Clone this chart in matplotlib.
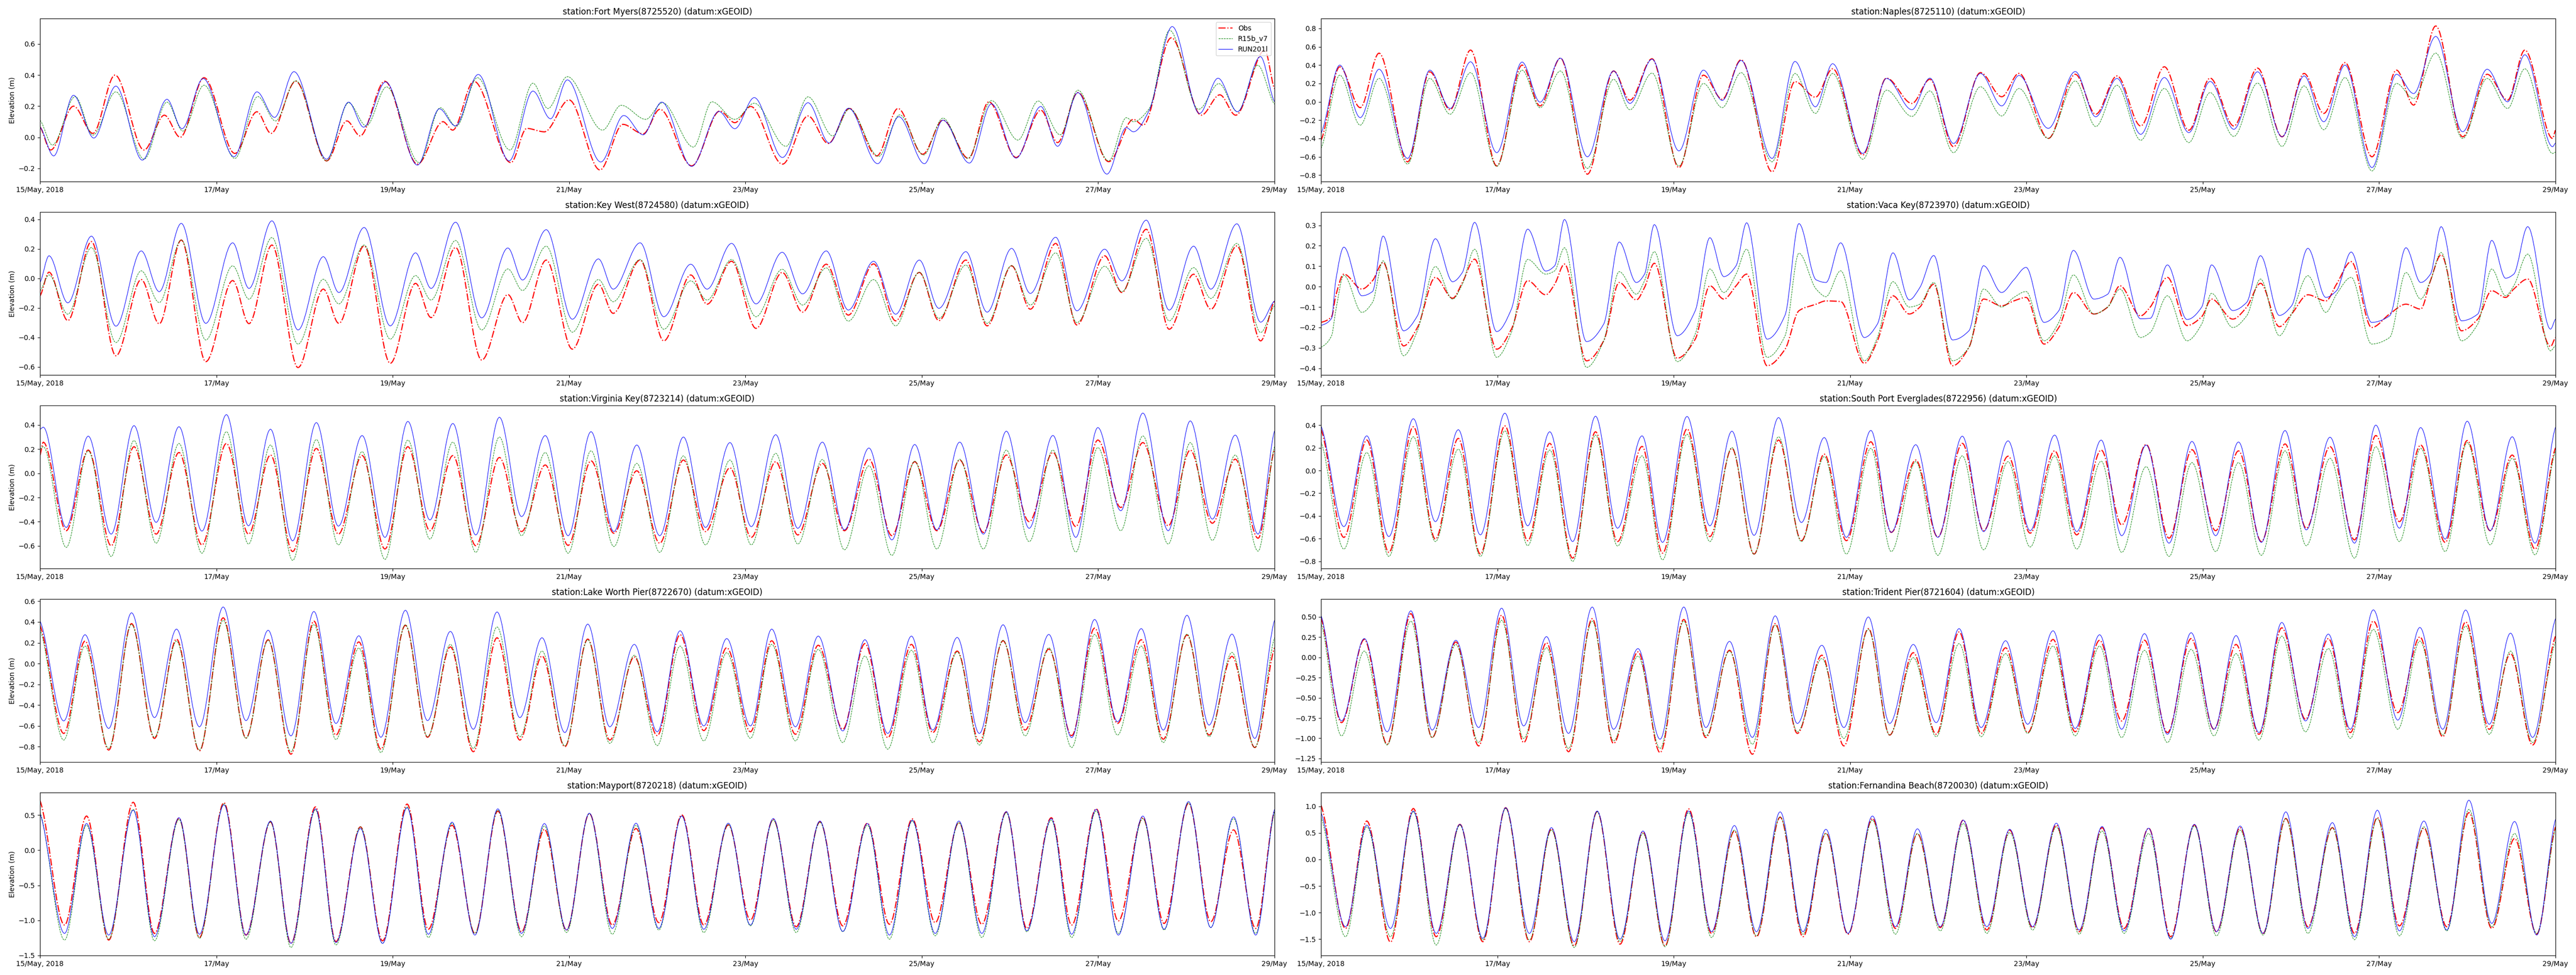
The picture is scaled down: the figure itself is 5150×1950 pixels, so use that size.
import datetime as dt
import numpy as np
import matplotlib
matplotlib.use("Agg")
import matplotlib.pyplot as plt
import matplotlib.dates as mdates
from matplotlib.path import Path
from matplotlib.patches import PathPatch
from matplotlib.lines import Line2D

# ---------------- data ----------------
START = dt.datetime(2018, 5, 15)
END = dt.datetime(2018, 5, 29)
TICK_DAYS = [0, 2, 4, 6, 8, 10, 12, 14]
TICK_LABELS = ["15/May, 2018", "17/May", "19/May", "21/May", "23/May", "25/May", "27/May", "29/May"]
SERIES_LABELS = ["Obs", "R15b_v7", "RUN201l"]
YLABEL = "Elevation (m)"

# Fort Myers (days since 15 May 00:00, metres)
FTM_T_OBS = [0, 0.12, 0.38, 0.60, 0.85, 1.18, 1.41, 1.59, 1.86, 2.21, 2.46, 2.62, 2.90, 3.25, 3.48, 3.63, 3.91, 4.28, 4.57, 4.68,
             4.92, 5.34, 5.52, 5.72, 6.00, 6.35, 6.61, 6.84, 7.03, 7.39, 7.71, 7.88, 8.06, 8.42, 8.71, 8.94, 9.18, 9.49, 9.73, 10.01,
             10.24, 10.53, 10.76, 11.07, 11.35, 11.54, 11.77, 12.12, 12.40, 12.51, 12.83, 13.17, 13.38, 13.56, 13.89, 14.0]
FTM_OBS = [0.067, -0.082, 0.20, 0.025, 0.40, -0.082, 0.142, 0.0, 0.383, -0.104, 0.164, 0.025, 0.36, -0.152, 0.105, 0.009, 0.36, -0.173, 0.10, 0.046,
           0.36, -0.163, 0.057, 0.035, 0.24, -0.21, 0.083, 0.022, 0.18, -0.184, 0.169, 0.094, 0.198, -0.173, 0.137, -0.04, 0.185, -0.12, 0.185, -0.109,
           0.11, -0.136, 0.228, -0.13, 0.174, -0.034, 0.287, -0.157, 0.115, 0.078, 0.64, 0.142, 0.273, 0.142, 0.56, 0.312]
FTM_T_R15 = [0, 0.14, 0.40, 0.60, 0.86, 1.18, 1.44, 1.62, 1.86, 2.21, 2.47, 2.67, 2.90, 3.25, 3.50, 3.70, 3.93, 4.30, 4.54, 4.72,
             4.96, 5.33, 5.59, 5.76, 5.98, 6.38, 6.59, 6.87, 7.06, 7.41, 7.62, 7.88, 8.10, 8.46, 8.71, 8.99, 9.18, 9.51, 9.75, 10.02,
             10.24, 10.52, 10.79, 11.09, 11.32, 11.57, 11.77, 12.12, 12.32, 12.40, 12.58, 12.81, 13.14, 13.37, 13.58, 13.81, 14.0]
FTM_R15 = [0.11, -0.05, 0.262, 0.014, 0.292, -0.141, 0.226, 0.04, 0.335, -0.136, 0.262, 0.105, 0.364, -0.152, 0.222, 0.073, 0.324, -0.163, 0.19, 0.07,
           0.383, -0.082, 0.348, 0.185, 0.39, 0.046, 0.206, 0.115, 0.222, -0.063, 0.228, 0.115, 0.219, -0.058, 0.26, 0.009, 0.183, -0.123, 0.144, -0.114,
           0.123, -0.136, 0.236, -0.018, 0.233, 0.016, 0.303, -0.152, 0.126, 0.10, 0.185, 0.688, 0.18, 0.345, 0.164, 0.463, 0.213]
FTM_T_RUN = [0, 0.155, 0.38, 0.61, 0.86, 1.16, 1.44, 1.61, 1.85, 2.20, 2.46, 2.66, 2.88, 3.25, 3.50, 3.67, 3.92, 4.28, 4.53, 4.71,
             4.97, 5.32, 5.59, 5.79, 5.98, 6.36, 6.62, 6.84, 7.05, 7.39, 7.70, 7.88, 8.10, 8.42, 8.71, 8.95, 9.17, 9.50, 9.74, 10.03,
             10.24, 10.54, 10.79, 11.07, 11.35, 11.54, 11.77, 12.10, 12.32, 12.40, 12.58, 12.84, 13.15, 13.36, 13.58, 13.84, 14.0]
FTM_RUN = [0.067, -0.12, 0.27, -0.005, 0.329, -0.147, 0.244, 0.055, 0.378, -0.125, 0.292, 0.128, 0.422, -0.141, 0.226, 0.065, 0.356, -0.179, 0.183, 0.073,
           0.404, -0.152, 0.297, 0.119, 0.369, -0.159, 0.14, 0.016, 0.226, -0.187, 0.166, 0.055, 0.255, -0.13, 0.222, -0.037, 0.187, -0.17, 0.132, -0.17,
           0.11, -0.166, 0.215, -0.134, 0.198, -0.058, 0.287, -0.237, 0.062, 0.035, 0.174, 0.712, 0.153, 0.38, 0.164, 0.519, 0.229]

# Naples
NAP_T = [0, 0.213, 0.445, 0.658, 0.982, 1.233, 1.464, 1.696, 1.993, 2.280, 2.484, 2.715, 3.021, 3.318, 3.503, 3.754, 4.059, 4.337, 4.550, 4.764,
         5.116, 5.375, 5.607, 5.802, 6.145, 6.413, 6.701, 6.905, 7.173, 7.479, 7.720, 7.915, 8.248, 8.554, 8.786, 9.027, 9.296, 9.564, 9.842, 10.083,
         10.352, 10.621, 10.899, 11.149, 11.372, 11.613, 11.919, 12.197, 12.391, 12.642, 12.947, 13.225, 13.457, 13.652, 13.967, 14.0]
NAP_OBS = [-0.42, 0.382, -0.064, 0.53, -0.655, 0.327, -0.087, 0.564, -0.70, 0.40, -0.045, 0.476, -0.79, 0.336, 0.018, 0.469, -0.718, 0.29, 0.027, 0.458,
           -0.764, 0.22, 0.05, 0.36, -0.58, 0.258, -0.018, 0.245, -0.49, 0.318, 0.055, 0.31, -0.40, 0.30, -0.136, 0.282, -0.264, 0.382, -0.31, 0.258,
           -0.264, 0.367, -0.382, 0.309, -0.127, 0.427, -0.60, 0.345, -0.036, 0.827, -0.382, 0.30, 0.018, 0.564, -0.40, -0.31]
NAP_R15 = [-0.51, 0.29, -0.255, 0.255, -0.68, 0.255, -0.136, 0.318, -0.705, 0.345, -0.064, 0.336, -0.727, 0.245, -0.087, 0.313, -0.70, 0.20, -0.064, 0.318,
           -0.655, 0.309, -0.127, 0.309, -0.627, 0.127, -0.16, 0.118, -0.555, 0.164, -0.155, 0.145, -0.40, 0.227, -0.27, 0.18, -0.42, 0.145, -0.445, 0.10,
           -0.378, 0.204, -0.487, 0.173, -0.305, 0.264, -0.755, 0.20, 0.036, 0.531, -0.40, 0.255, -0.073, 0.36, -0.564, -0.55]
NAP_RUN = [-0.345, 0.40, -0.173, 0.355, -0.618, 0.345, -0.073, 0.436, -0.555, 0.433, -0.004, 0.476, -0.60, 0.336, -0.018, 0.464, -0.536, 0.345, 0.015, 0.45,
           -0.618, 0.44, -0.055, 0.415, -0.564, 0.255, -0.087, 0.258, -0.455, 0.309, -0.045, 0.287, -0.29, 0.33, -0.164, 0.255, -0.355, 0.264, -0.336, 0.222,
           -0.30, 0.327, -0.382, 0.282, -0.218, 0.40, -0.718, 0.30, 0.09, 0.713, -0.327, 0.355, 0.0, 0.513, -0.49, -0.45]

# Key West
KEY_T = [0, 0.102, 0.315, 0.583, 0.861, 1.148, 1.352, 1.602, 1.880, 2.185, 2.370, 2.630, 2.926, 3.213, 3.389, 3.676, 3.972, 4.259, 4.435, 4.713,
         5.009, 5.306, 5.472, 5.741, 6.037, 6.333, 6.500, 6.806, 7.074, 7.380, 7.565, 7.843, 8.120, 8.417, 8.648, 8.917, 9.167, 9.454, 9.704, 9.972,
         10.194, 10.500, 10.741, 11.019, 11.231, 11.519, 11.759, 12.074, 12.269, 12.546, 12.806, 13.083, 13.278, 13.574, 13.843, 14.0]
KEY_OBS = [-0.119, 0.042, -0.286, 0.249, -0.525, -0.008, -0.308, 0.26, -0.565, -0.015, -0.307, 0.226, -0.605, -0.073, -0.305, 0.22, -0.576, -0.034, -0.266, 0.209,
           -0.554, -0.11, -0.30, 0.124, -0.48, -0.04, -0.237, 0.124, -0.424, 0.023, -0.175, 0.116, -0.339, 0.04, -0.229, 0.096, -0.249, 0.098, -0.288, 0.04,
           -0.286, 0.124, -0.322, 0.085, -0.209, 0.237, -0.316, 0.153, -0.096, 0.333, -0.345, 0.028, -0.209, 0.22, -0.424, -0.153]
KEY_R15 = [-0.085, 0.023, -0.243, 0.209, -0.435, 0.051, -0.164, 0.26, -0.418, 0.085, -0.141, 0.277, -0.446, -0.006, -0.173, 0.226, -0.412, 0.019, -0.147, 0.257,
           -0.35, 0.064, -0.082, 0.218, -0.365, -0.008, -0.158, 0.128, -0.345, -0.017, -0.147, 0.128, -0.26, 0.062, -0.181, 0.071, -0.29, -0.008, -0.322, 0.042,
           -0.271, 0.09, -0.305, 0.087, -0.181, 0.173, -0.30, 0.082, -0.09, 0.271, -0.288, 0.073, -0.136, 0.237, -0.367, -0.186]
KEY_RUN = [-0.028, 0.153, -0.166, 0.286, -0.324, 0.186, -0.09, 0.373, -0.305, 0.241, -0.068, 0.39, -0.35, 0.147, -0.096, 0.345, -0.322, 0.173, -0.068, 0.381,
           -0.268, 0.206, -0.011, 0.33, -0.277, 0.132, -0.073, 0.241, -0.26, 0.096, -0.073, 0.237, -0.173, 0.177, -0.105, 0.186, -0.215, 0.116, -0.243, 0.124,
           -0.203, 0.181, -0.229, 0.203, -0.102, 0.279, -0.22, 0.198, -0.017, 0.395, -0.215, 0.218, -0.073, 0.37, -0.297, -0.153]

# Vaca Key
VAC_T = [0, 0.120, 0.167, 0.259, 0.463, 0.584, 0.704, 0.936, 1.093, 1.297, 1.492, 1.603, 1.742, 1.992, 2.159, 2.344, 2.548, 2.650, 2.761, 3.011,
         3.206, 3.382, 3.576, 3.669, 3.780, 4.040, 4.244, 4.410, 4.568, 4.707, 4.827, 5.059, 5.263, 5.420, 5.615, 5.726, 5.893, 6.161, 6.310, 6.486,
         6.671, 6.792, 6.949, 7.162, 7.348, 7.514, 7.718, 7.857, 7.996, 8.200, 8.367, 8.533, 8.765, 8.922, 9.061, 9.293, 9.404, 9.599, 9.821, 9.988,
         10.099, 10.340, 10.498, 10.655, 10.868, 11.007, 11.192, 11.396, 11.517, 11.683, 11.915, 12.119, 12.304, 12.471, 12.582, 12.703, 12.934, 13.119, 13.277, 13.434,
         13.527, 13.685, 13.944, 14.0]
VAC_OBS = [-0.175, -0.147, -0.045, 0.061, -0.012, 0.029, 0.118, -0.29, -0.20, 0.045, -0.057, 0.02, 0.134, -0.306, -0.208, 0.029, -0.04, 0.012, 0.11, -0.363,
           -0.265, 0.02, -0.065, -0.004, 0.114, -0.35, -0.257, 0.004, -0.061, 0.004, 0.061, -0.387, -0.306, -0.118, -0.086, -0.07, -0.073, -0.375, -0.265, -0.045,
           -0.134, -0.10, 0.012, -0.387, -0.297, -0.061, -0.094, -0.07, -0.053, -0.281, -0.20, -0.029, -0.134, -0.10, 0.004, -0.143, -0.10, 0.045, -0.19, -0.147,
           -0.061, -0.159, -0.10, 0.016, -0.196, -0.134, -0.04, -0.07, 0.012, 0.122, -0.20, -0.134, -0.086, -0.11, 0.029, 0.155, -0.216, -0.159, -0.02, -0.053,
           -0.012, 0.037, -0.293, -0.249]
VAC_R15 = [-0.297, -0.24, -0.118, 0.055, -0.126, -0.077, 0.126, -0.338, -0.216, 0.098, -0.061, 0.012, 0.183, -0.346, -0.224, 0.133, 0.061, 0.077, 0.19, -0.395,
           -0.265, 0.073, -0.037, 0.029, 0.171, -0.367, -0.232, 0.086, -0.029, 0.061, 0.183, -0.346, -0.24, 0.163, -0.012, -0.049, 0.077, -0.363, -0.249, 0.024,
           -0.10, -0.086, 0.02, -0.363, -0.297, -0.012, -0.10, -0.053, -0.024, -0.265, -0.175, 0.057, -0.134, -0.10, -0.012, -0.249, -0.224, -0.045, -0.265, -0.183,
           -0.033, -0.20, -0.143, 0.037, -0.24, -0.134, 0.053, -0.126, -0.037, 0.045, -0.281, -0.249, 0.069, -0.061, 0.029, 0.167, -0.265, -0.183, 0.086, -0.045,
           0.004, 0.159, -0.314, -0.289]
VAC_RUN = [-0.19, -0.155, 0.029, 0.193, -0.045, -0.024, 0.247, -0.216, -0.143, 0.234, 0.024, 0.069, 0.314, -0.22, -0.11, 0.281, 0.076, 0.102, 0.328, -0.269,
           -0.183, 0.218, 0.02, 0.061, 0.303, -0.24, -0.118, 0.239, 0.049, 0.102, 0.312, -0.257, -0.139, 0.308, 0.033, 0.02, 0.214, -0.249, -0.183, 0.165,
           -0.065, -0.004, 0.152, -0.261, -0.216, 0.102, -0.029, 0.033, 0.094, -0.175, -0.118, 0.177, -0.061, -0.037, 0.143, -0.157, -0.155, 0.106, -0.161, -0.10,
           0.106, -0.117, -0.077, 0.151, -0.141, -0.094, 0.187, -0.053, -0.02, 0.169, -0.175, -0.143, 0.19, 0.02, 0.061, 0.293, -0.167, -0.134, 0.226, 0.041,
           0.061, 0.293, -0.208, -0.159]

# Virginia Key
VIR_T = [0, 0.037, 0.297, 0.547, 0.807, 1.066, 1.317, 1.576, 1.836, 2.114, 2.364, 2.614, 2.865, 3.134, 3.384, 3.653, 3.912, 4.172, 4.422, 4.682,
         4.942, 5.210, 5.461, 5.730, 5.989, 6.249, 6.508, 6.768, 7.028, 7.297, 7.547, 7.825, 8.066, 8.344, 8.594, 8.873, 9.123, 9.401, 9.661, 9.920,
         10.171, 10.430, 10.699, 10.959, 11.218, 11.487, 11.747, 11.997, 12.257, 12.507, 12.795, 13.045, 13.295, 13.555, 13.814, 14.0]
VIR_OBS = [0.15, 0.257, -0.474, 0.192, -0.598, 0.22, -0.502, 0.172, -0.591, 0.247, -0.502, 0.151, -0.646, 0.206, -0.502, 0.147, -0.625, 0.22, -0.474, 0.147,
           -0.598, 0.131, -0.481, 0.069, -0.595, 0.103, -0.495, 0.021, -0.577, 0.11, -0.481, 0.045, -0.529, 0.096, -0.509, 0.082, -0.474, 0.117, -0.515, 0.096,
           -0.474, 0.11, -0.488, 0.151, -0.399, 0.172, -0.44, 0.275, -0.282, 0.254, -0.433, 0.192, -0.412, 0.117, -0.536, 0.20]
VIR_R15 = [0.20, 0.22, -0.612, 0.186, -0.687, 0.271, -0.577, 0.247, -0.66, 0.344, -0.584, 0.234, -0.719, 0.279, -0.591, 0.179, -0.711, 0.275, -0.543, 0.258,
           -0.653, 0.30, -0.515, 0.172, -0.66, 0.186, -0.605, 0.082, -0.653, 0.144, -0.591, 0.11, -0.591, 0.165, -0.584, 0.114, -0.632, 0.062, -0.678, 0.10,
           -0.625, 0.117, -0.625, 0.192, -0.564, 0.192, -0.65, 0.213, -0.474, 0.309, -0.584, 0.254, -0.554, 0.151, -0.643, 0.22]
VIR_RUN = [0.364, 0.381, -0.447, 0.307, -0.502, 0.394, -0.405, 0.385, -0.477, 0.485, -0.433, 0.364, -0.557, 0.419, -0.436, 0.312, -0.529, 0.429, -0.385, 0.412,
           -0.509, 0.463, -0.357, 0.312, -0.515, 0.344, -0.481, 0.234, -0.515, 0.30, -0.447, 0.254, -0.44, 0.319, -0.454, 0.258, -0.467, 0.209, -0.55, 0.238,
           -0.467, 0.258, -0.502, 0.348, -0.454, 0.313, -0.529, 0.378, -0.309, 0.498, -0.474, 0.433, -0.378, 0.316, -0.502, 0.35]

# South Port Everglades
SPE_T = [0, 0.259, 0.519, 0.769, 1.047, 1.297, 1.557, 1.807, 2.085, 2.344, 2.594, 2.854, 3.113, 3.363, 3.641, 3.873, 4.151, 4.410, 4.660, 4.911,
         5.189, 5.448, 5.707, 5.958, 6.236, 6.467, 6.745, 6.995, 7.273, 7.514, 7.792, 8.042, 8.320, 8.570, 8.848, 9.080, 9.358, 9.617, 9.877, 10.146,
         10.405, 10.664, 10.933, 11.174, 11.443, 11.721, 11.962, 12.230, 12.471, 12.749, 12.999, 13.259, 13.509, 13.768, 14.0]
SPE_OBS = [0.363, -0.589, 0.268, -0.721, 0.385, -0.604, 0.283, -0.736, 0.393, -0.618, 0.239, -0.772, 0.341, -0.626, 0.212, -0.728, 0.366, -0.582, 0.195, -0.736,
           0.268, -0.618, 0.144, -0.618, 0.253, -0.545, 0.092, -0.586, 0.239, -0.53, 0.126, -0.552, 0.173, -0.567, 0.18, -0.479, 0.229, -0.596, 0.183, -0.53,
           0.173, -0.626, 0.234, -0.508, 0.21, -0.611, 0.308, -0.45, 0.224, -0.633, 0.264, -0.53, 0.136, -0.692, 0.20]
SPE_R15 = [0.253, -0.692, 0.158, -0.757, 0.297, -0.626, 0.188, -0.757, 0.349, -0.662, 0.18, -0.801, 0.312, -0.665, 0.129, -0.787, 0.319, -0.626, 0.202, -0.738,
           0.297, -0.626, 0.122, -0.736, 0.195, -0.714, 0.078, -0.747, 0.129, -0.699, 0.078, -0.674, 0.129, -0.692, 0.082, -0.721, 0.034, -0.757, 0.07, -0.714,
           0.07, -0.747, 0.173, -0.662, 0.107, -0.772, 0.21, -0.626, 0.195, -0.714, 0.246, -0.655, 0.107, -0.743, 0.173]
SPE_RUN = [0.393, -0.494, 0.305, -0.582, 0.456, -0.45, 0.359, -0.567, 0.505, -0.487, 0.341, -0.626, 0.478, -0.508, 0.305, -0.633, 0.476, -0.487, 0.346, -0.571,
           0.466, -0.458, 0.29, -0.589, 0.353, -0.545, 0.227, -0.589, 0.302, -0.538, 0.261, -0.53, 0.312, -0.538, 0.268, -0.574, 0.224, -0.64, 0.256, -0.574,
           0.251, -0.633, 0.352, -0.523, 0.293, -0.64, 0.40, -0.508, 0.378, -0.604, 0.434, -0.53, 0.297, -0.64, 0.381]

# Lake Worth Pier
LWP_T = [0, 0.269, 0.510, 0.779, 1.038, 1.298, 1.548, 1.808, 2.077, 2.336, 2.587, 2.846, 3.106, 3.356, 3.616, 3.866, 4.144, 4.395, 4.654, 4.914,
         5.183, 5.442, 5.693, 5.952, 6.212, 6.462, 6.740, 7.000, 7.259, 7.528, 7.788, 8.057, 8.298, 8.567, 8.826, 9.104, 9.355, 9.614, 9.883, 10.124,
         10.402, 10.653, 10.922, 11.172, 11.441, 11.700, 11.960, 12.220, 12.489, 12.739, 13.008, 13.258, 13.518, 13.777, 14.0]
LWP_OBS = [0.368, -0.672, 0.216, -0.832, 0.384, -0.72, 0.235, -0.84, 0.44, -0.715, 0.229, -0.872, 0.408, -0.688, 0.208, -0.824, 0.368, -0.709, 0.16, -0.848,
           0.248, -0.736, 0.072, -0.80, 0.235, -0.736, 0.064, -0.693, 0.277, -0.645, 0.152, -0.656, 0.219, -0.68, 0.176, -0.632, 0.192, -0.712, 0.184, -0.664,
           0.12, -0.752, 0.219, -0.64, 0.139, -0.693, 0.341, -0.576, 0.229, -0.728, 0.275, -0.688, 0.069, -0.808, 0.152]
LWP_R15 = [0.328, -0.736, 0.168, -0.816, 0.376, -0.709, 0.216, -0.832, 0.416, -0.72, 0.224, -0.848, 0.376, -0.731, 0.149, -0.856, 0.373, -0.704, 0.184, -0.816,
           0.352, -0.704, 0.12, -0.792, 0.229, -0.768, 0.08, -0.789, 0.168, -0.744, 0.104, -0.72, 0.184, -0.744, 0.136, -0.76, 0.072, -0.824, 0.128, -0.76,
           0.112, -0.784, 0.224, -0.696, 0.152, -0.808, 0.28, -0.688, 0.168, -0.76, 0.283, -0.704, 0.107, -0.808, 0.248]
LWP_RUN = [0.411, -0.552, 0.277, -0.624, 0.488, -0.52, 0.331, -0.608, 0.544, -0.549, 0.32, -0.696, 0.501, -0.576, 0.267, -0.709, 0.512, -0.549, 0.309, -0.632,
           0.496, -0.52, 0.248, -0.664, 0.379, -0.608, 0.184, -0.656, 0.315, -0.60, 0.24, -0.60, 0.331, -0.608, 0.264, -0.648, 0.229, -0.672, 0.264, -0.64,
           0.251, -0.672, 0.373, -0.568, 0.28, -0.712, 0.424, -0.56, 0.336, -0.64, 0.464, -0.592, 0.283, -0.72, 0.416]

# Trident Pier
TRI_T = [0, 0.232, 0.491, 0.750, 1.019, 1.260, 1.529, 1.788, 2.048, 2.298, 2.557, 2.807, 3.076, 3.317, 3.595, 3.845, 4.114, 4.364, 4.633, 4.892,
         5.151, 5.402, 5.680, 5.930, 6.208, 6.449, 6.717, 6.977, 7.236, 7.486, 7.764, 8.014, 8.302, 8.552, 8.830, 9.080, 9.339, 9.599, 9.868, 10.127,
         10.377, 10.637, 10.896, 11.165, 11.424, 11.674, 11.934, 12.212, 12.462, 12.721, 12.981, 13.249, 13.490, 13.740, 14.0]
TRI_OBS = [0.49, -0.807, 0.222, -1.074, 0.541, -0.992, 0.191, -1.095, 0.521, -1.053, 0.181, -1.167, 0.479, -1.064, 0.068, -1.177, 0.469, -0.992, 0.088, -1.198,
           0.418, -0.94, 0.027, -1.095, 0.356, -0.961, 0.058, -0.951, 0.315, -0.94, 0.119, -0.93, 0.222, -0.92, 0.212, -0.786, 0.212, -0.93, 0.233, -0.889,
           0.16, -0.951, 0.366, -0.765, 0.233, -0.93, 0.449, -0.683, 0.253, -0.981, 0.438, -0.889, 0.047, -1.084, 0.263]
TRI_R15 = [0.428, -0.971, 0.078, -1.084, 0.449, -0.992, 0.16, -1.053, 0.459, -1.002, 0.119, -1.126, 0.449, -1.033, 0.016, -1.126, 0.449, -0.971, 0.078, -1.074,
           0.397, -0.92, -0.014, -1.002, 0.346, -0.961, -0.004, -0.981, 0.171, -0.981, 0.047, -0.94, 0.14, -0.971, 0.14, -0.992, 0.088, -1.053, 0.099, -0.971,
           0.047, -1.023, 0.263, -0.92, 0.109, -1.002, 0.346, -0.889, 0.202, -0.961, 0.387, -0.951, 0.078, -1.053, 0.191]
TRI_RUN = [0.521, -0.786, 0.233, -0.92, 0.576, -0.899, 0.212, -0.868, 0.609, -0.848, 0.257, -0.94, 0.623, -0.889, 0.109, -1.012, 0.623, -0.868, 0.198, -0.99,
           0.514, -0.817, 0.15, -0.868, 0.50, -0.817, 0.16, -0.807, 0.356, -0.868, 0.206, -0.827, 0.329, -0.879, 0.28, -0.889, 0.294, -0.951, 0.305, -0.889,
           0.27, -0.93, 0.432, -0.786, 0.288, -0.889, 0.588, -0.776, 0.37, -0.889, 0.586, -0.827, 0.30, -0.99, 0.479]

# Mayport
MAY_T = [0, 0.278, 0.528, 0.779, 1.057, 1.298, 1.576, 1.808, 2.086, 2.336, 2.614, 2.846, 3.124, 3.356, 3.634, 3.885, 4.163, 4.404, 4.673, 4.932,
         5.192, 5.461, 5.720, 5.971, 6.230, 6.490, 6.759, 7.018, 7.278, 7.528, 7.806, 8.057, 8.316, 8.576, 8.845, 9.104, 9.383, 9.633, 9.892, 10.152,
         10.421, 10.681, 10.959, 11.191, 11.469, 11.700, 11.978, 12.229, 12.507, 12.748, 13.026, 13.277, 13.536, 13.787, 14.0]
MAY_OBS = [0.706, -1.066, 0.486, -1.28, 0.682, -1.185, 0.455, -1.244, 0.675, -1.209, 0.403, -1.327, 0.616, -1.303, 0.332, -1.291, 0.656, -1.126, 0.355, -1.185,
           0.557, -1.161, 0.296, -1.137, 0.521, -1.066, 0.308, -1.031, 0.502, -1.066, 0.36, -0.995, 0.438, -1.09, 0.403, -1.078, 0.384, -1.055, 0.445, -1.031,
           0.391, -1.055, 0.545, -1.114, 0.462, -1.066, 0.588, -1.007, 0.462, -1.043, 0.668, -1.019, 0.289, -1.114, 0.569]
MAY_R15 = [0.545, -1.28, 0.355, -1.268, 0.581, -1.291, 0.438, -1.256, 0.659, -1.268, 0.403, -1.386, 0.573, -1.35, 0.332, -1.327, 0.616, -1.244, 0.384, -1.185,
           0.569, -1.232, 0.344, -1.173, 0.521, -1.197, 0.355, -1.137, 0.486, -1.173, 0.367, -1.078, 0.427, -1.173, 0.398, -1.161, 0.355, -1.268, 0.415, -1.22,
           0.391, -1.244, 0.533, -1.161, 0.427, -1.244, 0.557, -1.185, 0.45, -1.137, 0.675, -1.102, 0.45, -1.185, 0.545]
MAY_RUN = [0.521, -1.185, 0.379, -1.209, 0.569, -1.232, 0.462, -1.197, 0.645, -1.209, 0.415, -1.327, 0.588, -1.315, 0.308, -1.327, 0.604, -1.197, 0.398, -1.209,
           0.588, -1.185, 0.379, -1.137, 0.526, -1.114, 0.384, -1.114, 0.486, -1.126, 0.384, -1.066, 0.45, -1.126, 0.415, -1.156, 0.379, -1.209, 0.427, -1.185,
           0.415, -1.185, 0.55, -1.149, 0.45, -1.197, 0.581, -1.209, 0.486, -1.126, 0.692, -1.102, 0.474, -1.209, 0.581]

# Fernandina Beach
FER_T = [0, 0.278, 0.519, 0.788, 1.047, 1.306, 1.575, 1.835, 2.094, 2.363, 2.613, 2.872, 3.132, 3.391, 3.651, 3.901, 4.169, 4.429, 4.688, 4.938,
         5.207, 5.466, 5.726, 5.976, 6.254, 6.514, 6.764, 7.023, 7.283, 7.551, 7.811, 8.070, 8.339, 8.598, 8.858, 9.108, 9.386, 9.636, 9.905, 10.155,
         10.424, 10.683, 10.942, 11.192, 11.470, 11.721, 11.980, 12.230, 12.508, 12.767, 13.018, 13.277, 13.536, 13.787, 14.0]
FER_OBS = [1.02, -1.296, 0.723, -1.552, 0.958, -1.452, 0.66, -1.546, 0.973, -1.546, 0.576, -1.624, 0.901, -1.593, 0.52, -1.624, 0.951, -1.39, 0.535, -1.452,
           0.795, -1.452, 0.495, -1.405, 0.77, -1.296, 0.482, -1.28, 0.739, -1.327, 0.551, -1.28, 0.645, -1.358, 0.598, -1.296, 0.588, -1.452, 0.651, -1.358,
           0.598, -1.39, 0.77, -1.264, 0.598, -1.39, 0.786, -1.249, 0.588, -1.264, 0.88, -1.296, 0.394, -1.405, 0.613]
FER_R15 = [0.80, -1.452, 0.613, -1.452, 0.895, -1.609, 0.645, -1.515, 0.958, -1.515, 0.551, -1.656, 0.895, -1.546, 0.488, -1.64, 0.88, -1.468, 0.551, -1.437,
           0.801, -1.405, 0.488, -1.39, 0.739, -1.405, 0.488, -1.343, 0.676, -1.39, 0.504, -1.327, 0.613, -1.405, 0.535, -1.39, 0.488, -1.484, 0.629, -1.437,
           0.551, -1.421, 0.77, -1.39, 0.598, -1.509, 0.77, -1.437, 0.613, -1.343, 0.942, -1.264, 0.488, -1.39, 0.582]
FER_RUN = [0.88, -1.264, 0.645, -1.296, 0.911, -1.39, 0.66, -1.484, 0.973, -1.39, 0.598, -1.546, 0.911, -1.499, 0.535, -1.531, 0.911, -1.358, 0.638, -1.358,
           0.895, -1.358, 0.567, -1.39, 0.817, -1.264, 0.576, -1.264, 0.739, -1.264, 0.567, -1.264, 0.682, -1.327, 0.62, -1.343, 0.588, -1.499, 0.66, -1.358,
           0.629, -1.39, 0.895, -1.296, 0.692, -1.452, 0.926, -1.343, 0.723, -1.327, 1.114, -1.202, 0.714, -1.421, 0.754]

TITLES = [
    "station:Fort Myers(8725520) (datum:xGEOID)",
    "station:Naples(8725110) (datum:xGEOID)",
    "station:Key West(8724580) (datum:xGEOID)",
    "station:Vaca Key(8723970) (datum:xGEOID)",
    "station:Virginia Key(8723214) (datum:xGEOID)",
    "station:South Port Everglades(8722956) (datum:xGEOID)",
    "station:Lake Worth Pier(8722670) (datum:xGEOID)",
    "station:Trident Pier(8721604) (datum:xGEOID)",
    "station:Mayport(8720218) (datum:xGEOID)",
    "station:Fernandina Beach(8720030) (datum:xGEOID)",
]

YLIMS = [(-0.284, 0.763), (-0.869, 0.907), (-0.655, 0.449), (-0.432, 0.364), (-0.786, 0.559),
         (-0.863, 0.571), (-0.947, 0.619), (-1.294, 0.72), (-1.5, 0.818), (-1.806, 1.255)]

PANELS = [
    ((FTM_T_OBS, FTM_OBS), (FTM_T_R15, FTM_R15), (FTM_T_RUN, FTM_RUN)),
    ((NAP_T, NAP_OBS), (NAP_T, NAP_R15), (NAP_T, NAP_RUN)),
    ((KEY_T, KEY_OBS), (KEY_T, KEY_R15), (KEY_T, KEY_RUN)),
    ((VAC_T, VAC_OBS), (VAC_T, VAC_R15), (VAC_T, VAC_RUN)),
    ((VIR_T, VIR_OBS), (VIR_T, VIR_R15), (VIR_T, VIR_RUN)),
    ((SPE_T, SPE_OBS), (SPE_T, SPE_R15), (SPE_T, SPE_RUN)),
    ((LWP_T, LWP_OBS), (LWP_T, LWP_R15), (LWP_T, LWP_RUN)),
    ((TRI_T, TRI_OBS), (TRI_T, TRI_R15), (TRI_T, TRI_RUN)),
    ((MAY_T, MAY_OBS), (MAY_T, MAY_R15), (MAY_T, MAY_RUN)),
    ((FER_T, FER_OBS), (FER_T, FER_R15), (FER_T, FER_RUN)),
]

# ---------------- styling ----------------
STYLES = [
    dict(color="r", linestyle="-.", linewidth=1.6),
    dict(color="g", linestyle="--", linewidth=0.7),
    dict(color="b", linestyle="-", linewidth=0.75),
]


def smooth_path(x, y):
    """Smooth cubic path through every data point (monotone tangents)."""
    x = np.asarray(x, float)
    y = np.asarray(y, float)
    h = np.diff(x)
    d = np.diff(y) / h
    m = np.zeros_like(y)
    for k in range(1, len(y) - 1):
        if d[k - 1] * d[k] > 0:
            w1 = 2 * h[k] + h[k - 1]
            w2 = h[k] + 2 * h[k - 1]
            m[k] = (w1 + w2) / (w1 / d[k - 1] + w2 / d[k])
    m[0] = d[0] * 0.5
    m[-1] = d[-1] * 0.5
    verts = [(x[0], y[0])]
    codes = [Path.MOVETO]
    for k in range(len(h)):
        verts += [(x[k] + h[k] / 3, y[k] + m[k] * h[k] / 3),
                  (x[k + 1] - h[k] / 3, y[k + 1] - m[k + 1] * h[k] / 3),
                  (x[k + 1], y[k + 1])]
        codes += [Path.CURVE4] * 3
    return Path(verts, codes)


def to_num(days):
    return mdates.date2num([START + dt.timedelta(days=float(d)) for d in days])


plt.rcParams["font.family"] = ["DejaVu Sans"]
fig, axes = plt.subplots(5, 2, figsize=(51.5, 19.5), dpi=100)
fig.subplots_adjust(left=80 / 5150, right=5109 / 5150, top=1 - 37.3 / 1950, bottom=1 - 1911 / 1950,
                    wspace=0.0377, hspace=0.189)

tick_pos = [START + dt.timedelta(days=d) for d in TICK_DAYS]
for i, ax in enumerate(axes.flat):
    ax.xaxis_date()
    handles = []
    for (t, v), lab, st in zip(PANELS[i], SERIES_LABELS, STYLES):
        patch = PathPatch(smooth_path(to_num(t), v), fill=False, edgecolor=st["color"],
                          linestyle=st["linestyle"], linewidth=st["linewidth"],
                          joinstyle="round", capstyle="butt")
        ax.add_patch(patch)
        handles.append(Line2D([], [], label=lab, **st))
    ax.set_xlim(START, END)
    ax.set_ylim(*YLIMS[i])
    ax.set_xticks(tick_pos)
    ax.set_xticklabels(TICK_LABELS)
    ax.set_title(TITLES[i], fontsize=12)
    if i % 2 == 0:
        ax.set_ylabel(YLABEL)
    if i == 0:
        ax.legend(handles=handles, loc="upper right")

fig.savefig("out.png", dpi=100)
